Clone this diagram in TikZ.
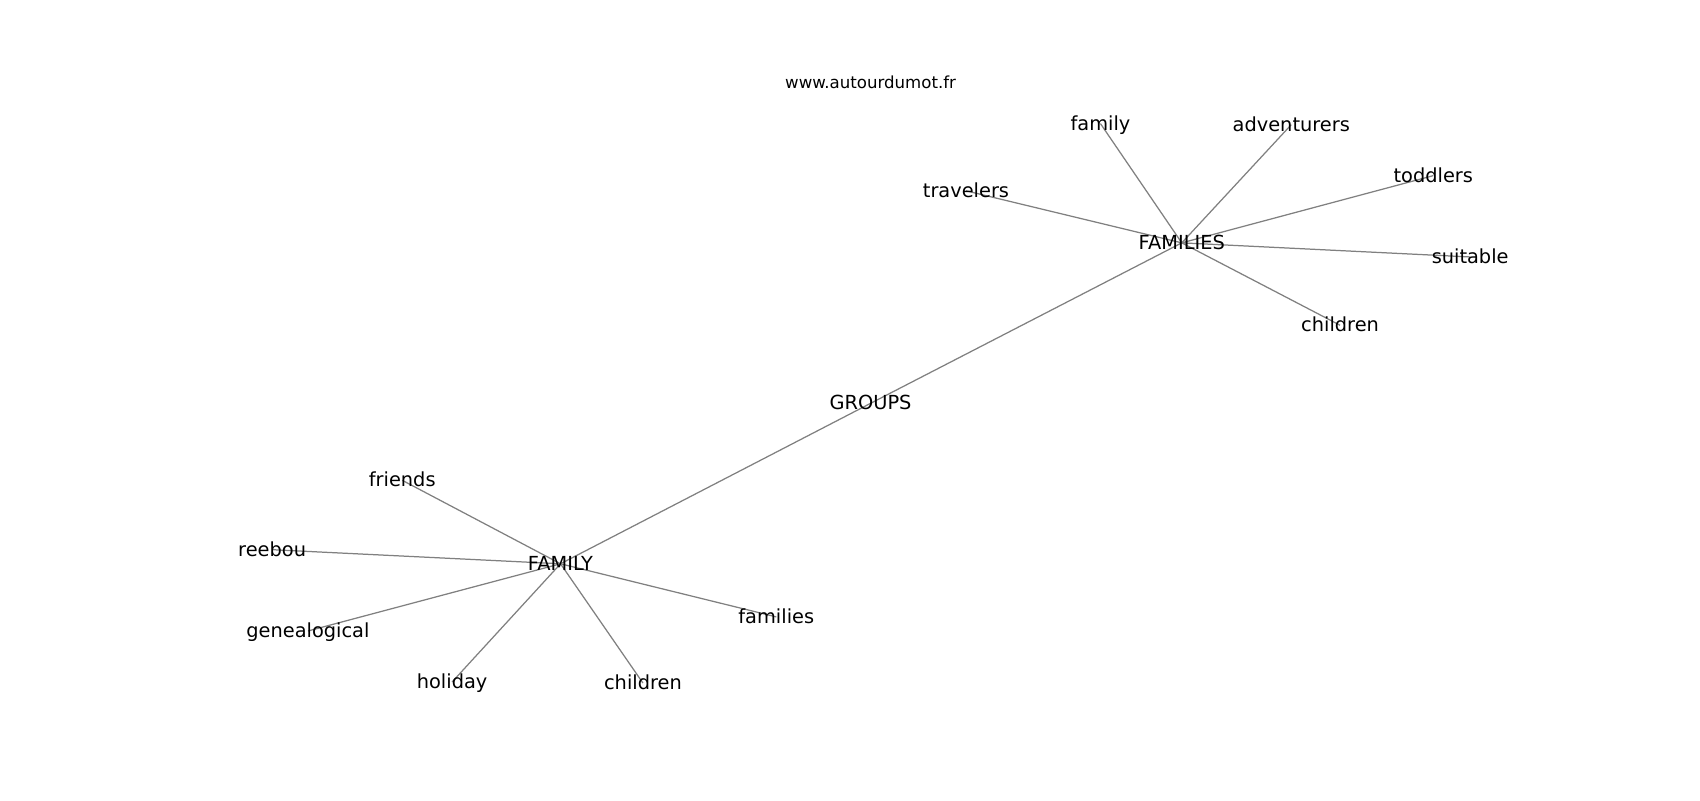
\documentclass[tikz,border=0pt]{standalone}
\usepackage{fontspec}
\setmainfont{DejaVu Sans}
\usetikzlibrary{backgrounds}

\tikzset{
  word/.style={inner sep=0pt, font=\fontsize{14}{14}\selectfont,
               text height=0.96em, text depth=0em},
  hub/.style={word},
  link/.style={draw=gray, line width=0.9pt},
}

\begin{document}
\begin{tikzpicture}[x=0.02754cm, y=-0.02754cm]

    \useasboundingbox (0,0) rectangle (1568,738);

    % Title
    \node[inner sep=0pt, font=\fontsize{12}{12}\selectfont] (title) at (803,76) {www.autourdumot.fr};

    % Define nodes
    \node[hub]  (GROUPS)   at (803,372)  {GROUPS};
    \node[hub]  (FAMILIES) at (1090,224) {FAMILIES};
    \node[hub]  (FAMILY)   at (517,520)  {FAMILY};

    \node[word] (fam)       at (1015,114) {family};
    \node[word] (advent)    at (1191,115) {adventurers};
    \node[word] (toddlers)  at (1322,162) {toddlers};
    \node[word] (travelers) at (891,176)  {travelers};
    \node[word] (suitable)  at (1356,237) {suitable};
    \node[word] (childA)    at (1236,300) {children};

    \node[word] (friends)   at (371,443)  {friends};
    \node[word] (reebou)    at (251,507)  {reebou};
    \node[word] (geneal)    at (284,582)  {genealogical};
    \node[word] (holiday)   at (417,629)  {holiday};
    \node[word] (childB)    at (593,630)  {children};
    \node[word] (famls)     at (716,569)  {families};

    % Connect the nodes
    \begin{pgfonlayer}{background}
      \draw[link] (GROUPS.center) -- (FAMILIES.center);
      \draw[link] (GROUPS.center) -- (FAMILY.center);
      \foreach \w in {fam,advent,toddlers,travelers,suitable,childA}
        \draw[link] (FAMILIES.center) -- (\w.center);
      \foreach \w in {friends,reebou,geneal,holiday,childB,famls}
        \draw[link] (FAMILY.center) -- (\w.center);
    \end{pgfonlayer}

\end{tikzpicture}
\end{document}
